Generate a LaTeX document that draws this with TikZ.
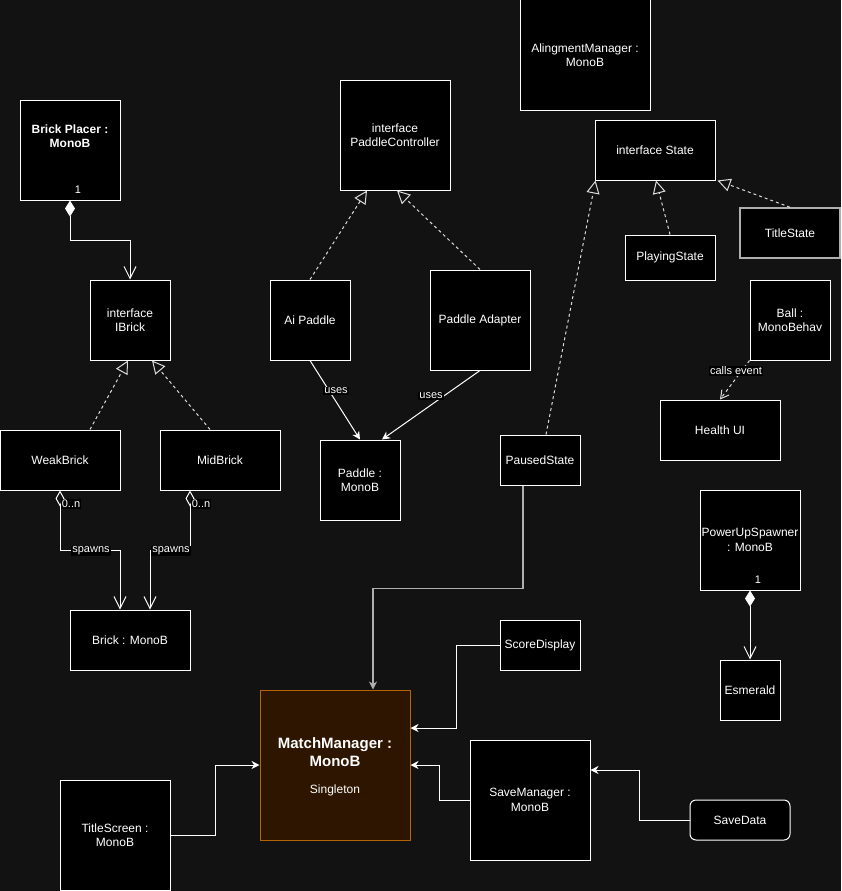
\documentclass[tikz,border=0pt]{standalone}
\usepackage{fontspec}
\setmainfont{Liberation Sans}
\usetikzlibrary{arrows.meta}
\definecolor{bg}{RGB}{18,18,18}
\definecolor{dashgrey}{RGB}{220,220,220}
\definecolor{midgrey}{RGB}{175,175,175}
\definecolor{mmfill}{RGB}{45,21,0}
\definecolor{mmdraw}{RGB}{180,100,4}
\tikzset{
  box/.style={draw=white, fill=black, line width=1pt, text=white, align=center,
    inner sep=0pt, font=\fontsize{12}{14.5}\selectfont},
  txt/.style={text=white, align=center, inner sep=0pt, font=\fontsize{12}{14.5}\selectfont},
  lbl/.style={text=white, fill=black, inner sep=1pt, font=\fontsize{11}{13}\selectfont},
  mult/.style={text=white, inner sep=0pt, font=\fontsize{11}{13}\selectfont},
  wire/.style={draw=white, line width=1pt},
  classic/.style={wire, -{Stealth[length=8pt, width=8pt, inset=2.5pt]}},
  impl/.style={draw=dashgrey, line width=1pt, dash pattern=on 3pt off 3pt,
    -{Triangle[open, length=13pt, width=13pt]}},
  compose/.style={wire, {Diamond[length=16pt, width=10pt]}-{Straight Barb[length=12pt, width=12pt]}},
  aggregate/.style={wire, {Diamond[open, length=16pt, width=9pt]}-{Straight Barb[length=12pt, width=12pt]}},
  depend/.style={draw=dashgrey, line width=1pt, dash pattern=on 3pt off 3pt,
    -{Straight Barb[length=8pt, width=9pt]}},
}
\begin{document}
\begin{tikzpicture}[x=1pt, y=-1pt]
\fill[bg] (0,0) rectangle (841,891);
\useasboundingbox (0,0) rectangle (841,891);

% ---- bricks ----
\node[box, minimum width=100, minimum height=100] (bp) at (70,150) {};
\node[txt, font=\fontsize{12}{14.5}\selectfont\bfseries] (bpt) at (70,136) {Brick Placer :\\MonoB};
\node[mult] (bpone) at (78,190) {1};
\node[box, minimum width=80, minimum height=80] (ib) at (130,320) {interface\\IBrick};
\node[box, minimum width=120, minimum height=60] (wb) at (60,460) {WeakBrick};
\node[box, minimum width=120, minimum height=60] (mb) at (220,460) {MidBrick};
\node[box, minimum width=120, minimum height=60] (br) at (130,640) {Brick : MonoB};

% ---- paddles ----
\node[box, minimum width=110, minimum height=110] (pc) at (395,135) {interface\\PaddleController};
\node[box, minimum width=80, minimum height=80] (ap) at (310,320) {Ai Paddle};
\node[box, minimum width=100, minimum height=100] (pa) at (480,320) {Paddle Adapter};
\node[box, minimum width=80, minimum height=80] (pd) at (360,480) {Paddle :\\MonoB};

% ---- states ----
\node[box, minimum width=130, minimum height=110] (am) at (585,55) {AlingmentManager :\\MonoB};
\node[box, minimum width=120, minimum height=60] (st) at (655,150) {interface State};
\node[box, minimum width=90, minimum height=45] (ps) at (670,257.5) {PlayingState};
\node[box, draw=midgrey, line width=1.5pt, minimum width=100, minimum height=50] (ts) at (790,233) {TitleState};
\node[box, minimum width=80, minimum height=50] (pz) at (540,460) {PausedState};

% ---- ball, power-ups ----
\node[box, minimum width=80, minimum height=80] (bl) at (790,320) {Ball :\\MonoBehav};
\node[box, minimum width=120, minimum height=60] (hu) at (720,430) {Health UI};
\node[box, minimum width=100, minimum height=100] (pu) at (750,540) {PowerUpSpawner\\: MonoB};
\node[mult] (puone) at (758,580) {1};
\node[box, minimum width=60, minimum height=60] (es) at (750,690) {Esmerald};

% ---- match management ----
\node[box, minimum width=80, minimum height=50] (sd) at (540,645) {ScoreDisplay};
\node[box, draw=mmdraw, fill=mmfill, minimum width=150, minimum height=150] (mm) at (335,765) {};
\node[txt, font=\fontsize{15}{17.5}\selectfont\bfseries] (mmt) at (335,752) {MatchManager :\\MonoB};
\node[txt] (mms) at (335,790) {Singleton};
\node[box, minimum width=110, minimum height=110] (tsc) at (115,835) {TitleScreen :\\MonoB};
\node[box, minimum width=120, minimum height=120] (sm) at (530,800) {SaveManager :\\MonoB};
\node[box, rounded corners=6pt, minimum width=100, minimum height=40] (sdt) at (740,820) {SaveData};

% ---- brick connectors ----
\draw[compose] (bp.south) -- ++(0,40) -| (ib.north);
\draw[impl] ([xshift=30]wb.north) -- ([xshift=-2]ib.south);
\draw[impl] ([xshift=-10]mb.north) -- ([xshift=22]ib.south);
\draw[aggregate] (wb.south) -- ++(0,60) -| ([xshift=-10]br.north);
\draw[aggregate] ([xshift=-30]mb.south) -- ++(0,60) -| ([xshift=20]br.north);
\node[lbl] (wbn) at (71,504) {0..n};
\node[lbl] (mbn) at (201,504) {0..n};
\node[lbl] (wbs) at (91,551) {spawns};
\node[lbl] (mbs) at (171,551) {spawns};

% ---- paddle connectors ----
\draw[impl] (ap.north) -- ([xshift=-28]pc.south);
\draw[impl] (pa.north) -- ([xshift=2]pc.south);
\draw[classic] (ap.south) -- (pd.north);
\draw[classic] (pa.south) -- ([xshift=22]pd.north);
\node[lbl] (apu) at (336,391) {uses};
\node[lbl] (pau) at (431,396) {uses};

% ---- state connectors ----
\draw[impl] ([xshift=6]pz.north) -- ([xshift=1]st.south west);
\draw[impl] (ps.north) -- ([xshift=1]st.south);
\draw[impl] (ts.north) -- ([xshift=2]st.south east);

% ---- ball / power-up connectors ----
\draw[depend] (bl.south west) -- (hu.north);
\node[lbl] (ble) at (736,371) {calls event};
\draw[compose] (pu.south) -- (es.north);

% ---- match manager connectors ----
\draw[classic, draw=midgrey, line width=1.5pt] ([xshift=-17]pz.south) -- ++(0,103) -| ([xshift=38]mm.north);
\draw[classic] (sd.west) -- ++(-43,0) |- ([yshift=37]mm.east);
\draw[classic] (sm.west) -- ++(-30,0) |- (mm.east);
\draw[classic] (sdt.west) -- ++(-50,0) |- ([yshift=30]sm.east);
\draw[classic] (tsc.east) -- ++(45,0) |- (mm.west);
\end{tikzpicture}
\end{document}
